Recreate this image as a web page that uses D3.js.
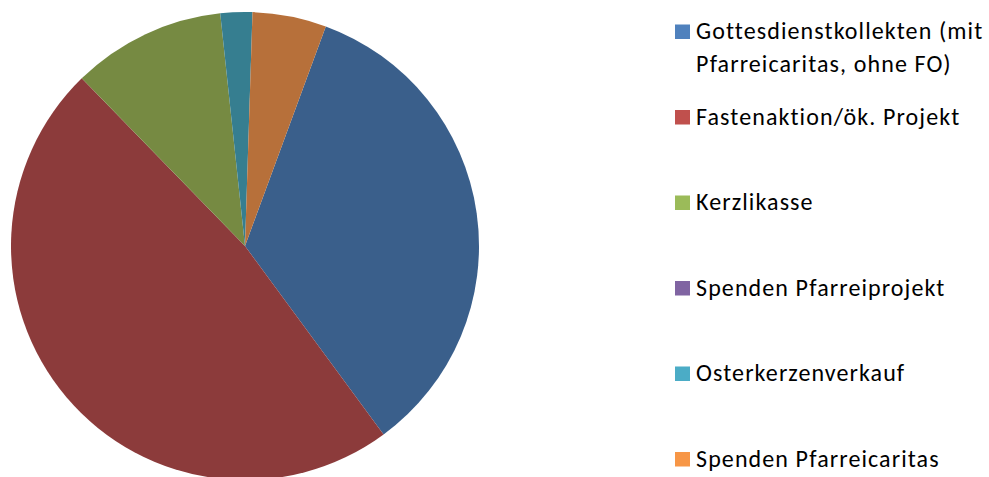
<!DOCTYPE html>
<html lang="de">
<head>
<meta charset="UTF-8">
<title>pie</title>
<script src="https://d3js.org/d3.v7.min.js"></script>
<style>
  body { margin: 0; background: #fff; }
  text { font-family: Carlito, Calibri, Lato, sans-serif; }
</style>
</head>
<body>
<svg width="989" height="477"></svg>
<script>
// data (percent shares)
var categories = ['Gottesdienstkollekten (mit|Pfarreicaritas, ohne FO)', 'Fastenaktion/ök. Projekt', 'Kerzlikasse',
                  'Spenden Pfarreiprojekt', 'Osterkerzenverkauf', 'Spenden Pfarreicaritas'];
var values = [34.3, 47.8, 10.6, 0, 2.2, 5.1];
var sliceColors = ['#3a5f8b', '#8c3b3b', '#768a42', '#5e4a7a', '#367e90', '#b7703a'];
var legendColors = ['#4f81bd', '#c0504d', '#9bbb59', '#8064a2', '#4bacc6', '#f79646'];

var svg = d3.select('svg');
var cx = 245, cy = 246, r = 234;

// first slice rotated ~20 degrees like in the workbook
var pie = d3.pie().sort(null).startAngle(20.2 * Math.PI / 180).endAngle(20.2 * Math.PI / 180 + 2 * Math.PI);
var arc = d3.arc().innerRadius(0).outerRadius(r);

var g = svg.append('g').attr('transform', 'translate(' + cx + ',' + cy + ')');
g.selectAll('path')
    .data(pie(values))
    .enter()
    .append('path')
    .attr('d', arc)
    .attr('fill', function (d, i) { return sliceColors[i]; });

// legend
var ly = d3.scaleLinear().domain([0, 5]).range([39, 466.5]);
var lg = svg.selectAll('.leg')
    .data(categories)
    .enter()
    .append('g')
    .attr('class', 'leg')
    .attr('transform', function (d, i) { return 'translate(675,' + ly(i) + ')'; });

lg.append('rect')
    .attr('x', 0).attr('y', -14.5)
    .attr('width', 15).attr('height', 14.5)
    .attr('fill', function (d, i) { return legendColors[i]; });

lg.append('text')
    .attr('font-size', 24)
    .attr('letter-spacing', 1.1)
    .attr('fill', '#000')
    .selectAll('tspan')
    .data(function (d) { return d.split('|'); })
    .enter()
    .append('tspan')
    .attr('x', 21)
    .attr('dy', function (d, i) { return i ? 33 : 0; })
    .text(function (d) { return d; });
</script>
</body>
</html>
